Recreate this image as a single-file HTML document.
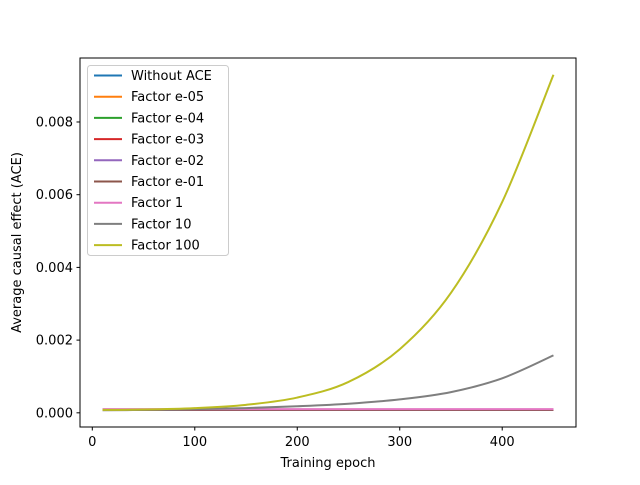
<!DOCTYPE html>
<html><head><meta charset="utf-8"><style>
body{margin:0;background:#fff;}
svg text{font-family:"DejaVu Sans","Liberation Sans",sans-serif;font-size:13px;fill:#000;}
</style></head><body>
<svg id="chart" width="640" height="480" xmlns="http://www.w3.org/2000/svg">
<rect width="640" height="480" fill="#fff"/>
<g id="series"></g>
<rect x="80" y="58" width="496" height="369" fill="none" stroke="#000" stroke-width="1"/>
<g id="xt"></g>
<g id="yt"></g>
<text x="328" y="467" text-anchor="middle">Training epoch</text>
<text transform="translate(21,242.5) rotate(-90)" text-anchor="middle">Average causal effect (ACE)</text>
<g id="legend"></g>
</svg>
<script>
const epochs=[10,50,100,150,200,250,300,350,400,450];
const seriesNames=["Without ACE","Factor e-05","Factor e-04","Factor e-03","Factor e-02","Factor e-01","Factor 1","Factor 10","Factor 100"];
const colors=["#1f77b4","#ff7f0e","#2ca02c","#d62728","#9467bd","#8c564b","#e377c2","#7f7f7f","#bcbd22"];
const flatValues=[0.00008,0.00008,0.00008,0.00008,0.00008,0.00008,0.00008,0.00008,0.00008,0.00008];
const pinkValues=[0.0001,0.0001,0.0001,0.0001,0.0001,0.0001,0.0001,0.0001,0.0001,0.0001];
const grayValues=[0.00007,0.00008,0.0001,0.00013,0.00018,0.00025,0.00037,0.00057,0.00095,0.00158];
const yellowValues=[0.00008,0.00009,0.00013,0.00022,0.00042,0.00085,0.00175,0.0033,0.0058,0.0093];
const seriesValues=[flatValues,flatValues,flatValues,flatValues,flatValues,flatValues,pinkValues,grayValues,yellowValues];
const xTicks=[0,100,200,300,400];
const yTicks=[0,0.002,0.004,0.006,0.008];
const yTickLabels=["0.000","0.002","0.004","0.006","0.008"];
const NS="http://www.w3.org/2000/svg";
const xMin=-12,xMax=472,yMin=-0.00039,yMax=0.00976;
function X(v){return 80+(v-xMin)/(xMax-xMin)*496;}
function Y(v){return 427-(v-yMin)/(yMax-yMin)*369;}
function mk(t,a,p){const e=document.createElementNS(NS,t);for(const k in a)e.setAttribute(k,a[k]);p.appendChild(e);return e;}
const sg=document.getElementById('series');
seriesValues.forEach((vals,i)=>{
  const pts=vals.map((v,j)=>[X(epochs[j]),Y(v)]);
  let d="M"+pts[0][0]+","+pts[0][1];
  for(let j=0;j<pts.length-1;j++){
    const p0=pts[j-1]||pts[j],p1=pts[j],p2=pts[j+1],p3=pts[j+2]||p2;
    const c1=[p1[0]+(p2[0]-p0[0])/6,p1[1]+(p2[1]-p0[1])/6];
    const c2=[p2[0]-(p3[0]-p1[0])/6,p2[1]-(p3[1]-p1[1])/6];
    d+=" C"+c1+" "+c2+" "+p2;
  }
  const p=mk('path',{d:d,fill:'none',stroke:colors[i],'stroke-width':2},sg);
  
  
});
const xg=document.getElementById('xt');
xTicks.forEach(v=>{
  const l=mk('line',{x1:X(v),x2:X(v),y1:427,y2:430.5,stroke:'#000'},xg);
  
  
  const t=mk('text',{x:X(v),y:446,'text-anchor':'middle'},xg);t.textContent=v;
  
  
});
const yg=document.getElementById('yt');
yTicks.forEach((v,i)=>{
  const l=mk('line',{x1:76.5,x2:80,y1:Y(v),y2:Y(v),stroke:'#000'},yg);
  
  
  const t=mk('text',{x:73,y:Y(v)+4.5,'text-anchor':'end'},yg);t.textContent=yTickLabels[i];
  
  
});
const lg=document.getElementById('legend');
const box=mk('rect',{x:87.5,y:65.5,width:141,height:190,rx:3,fill:'#fff','fill-opacity':0.8,stroke:'#ccc'},lg);


seriesNames.forEach((n,i)=>{
  const y=75.5+i*21.2;
  const l=mk('line',{x1:94,x2:122,y1:y,y2:y,stroke:colors[i],'stroke-width':2},lg);
  
  
  const t=mk('text',{x:131,y:y+4.5},lg);t.textContent=n;
  
  
});
</script>
</body></html>
